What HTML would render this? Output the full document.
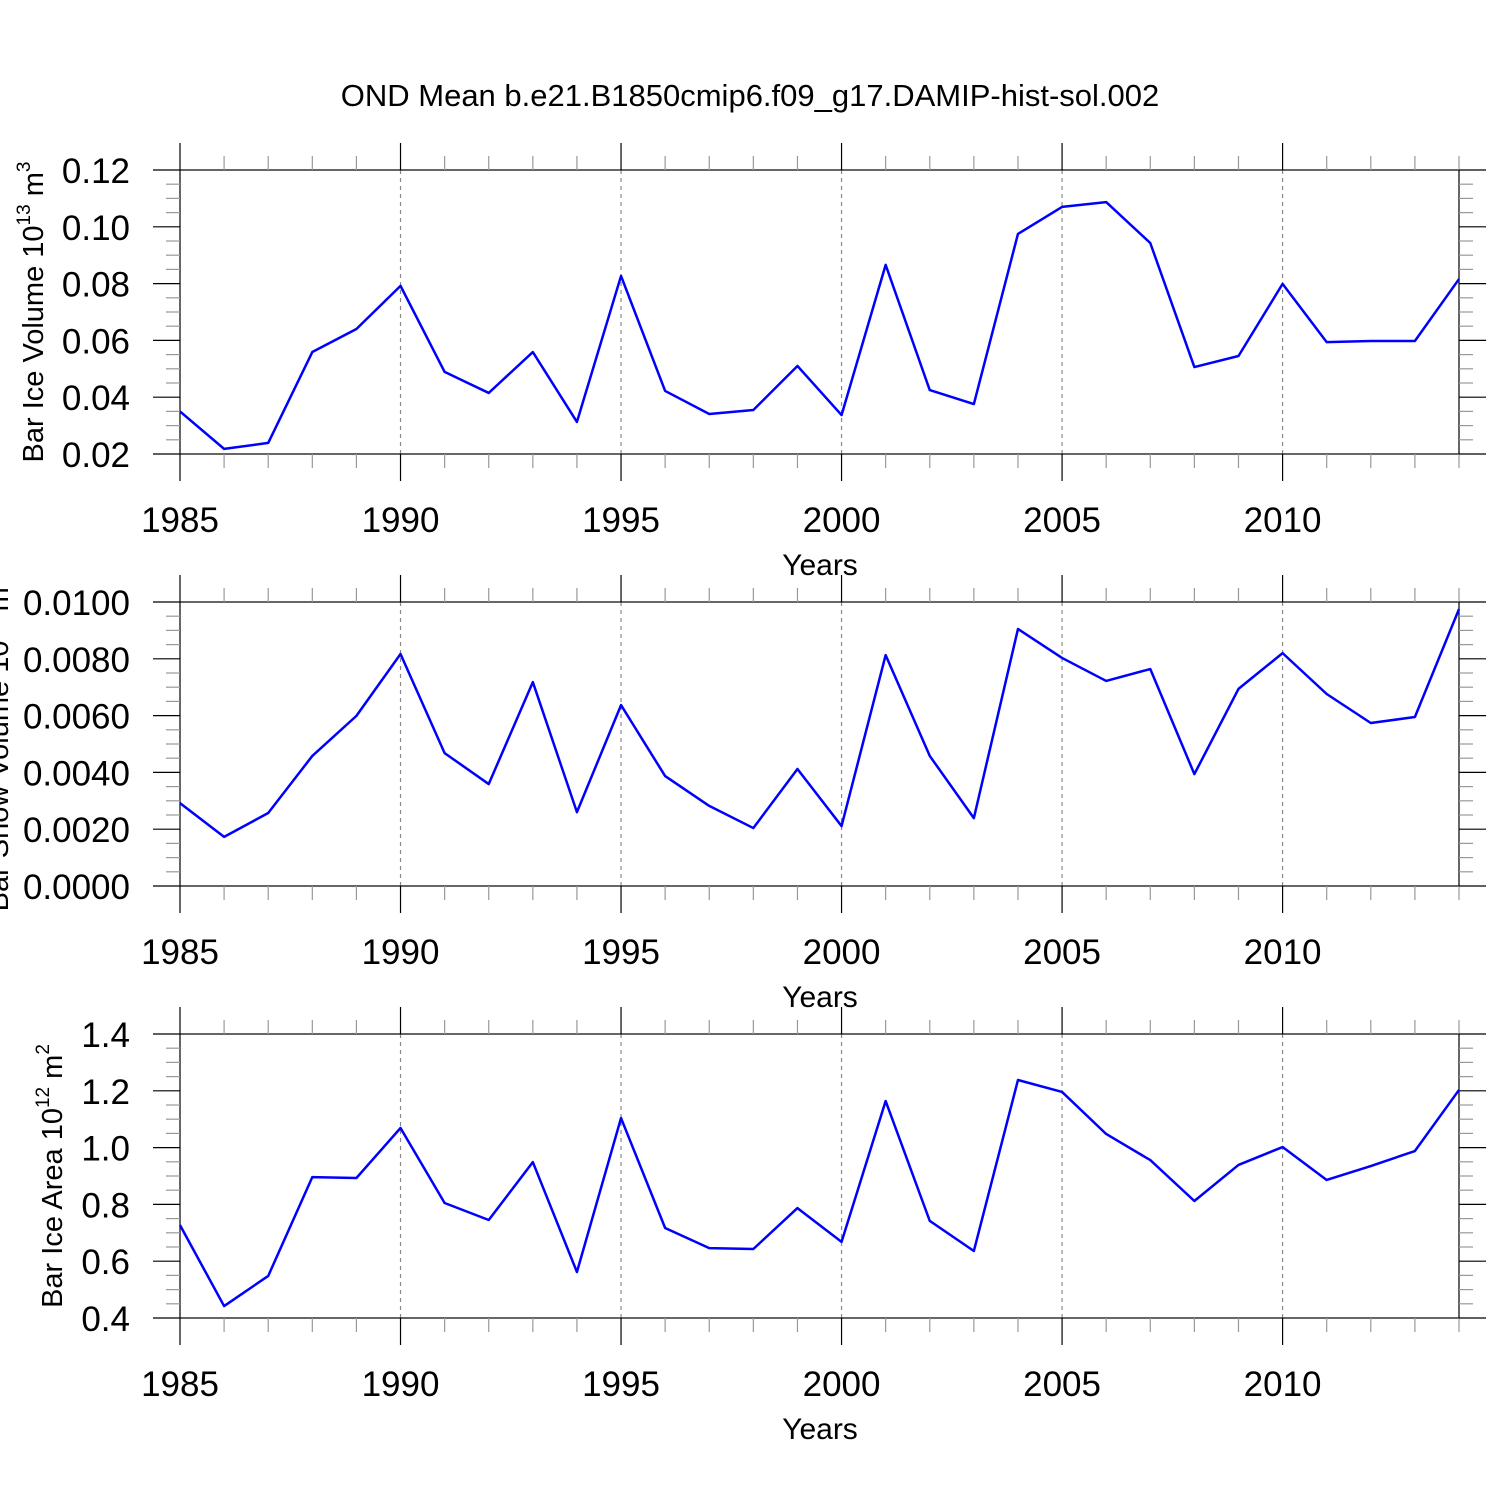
<!DOCTYPE html>
<html><head><meta charset="utf-8"><style>body{margin:0;background:#fff}svg{display:block}text{font-family:"Liberation Sans",sans-serif;fill:#000}</style></head>
<body>
<svg id="c" width="1500" height="1500">
<text x="750" y="106" font-size="31" text-anchor="middle">OND Mean b.e21.B1850cmip6.f09_g17.DAMIP-hist-sol.002</text>
</svg>
<script>
const years = [1985,1986,1987,1988,1989,1990,1991,1992,1993,1994,1995,1996,1997,1998,1999,2000,2001,2002,2003,2004,2005,2006,2007,2008,2009,2010,2011,2012,2013,2014];
const iceVolume = [0.035,0.0218,0.0239,0.0559,0.064,0.0792,0.0489,0.0415,0.0559,0.0313,0.0827,0.0422,0.0341,0.0355,0.051,0.0337,0.0866,0.0425,0.0376,0.0975,0.107,0.1087,0.0943,0.0506,0.0545,0.0799,0.0594,0.0598,0.0598,0.0816];
const snowVolume = [0.00292,0.00173,0.00257,0.00458,0.00599,0.00817,0.00468,0.00359,0.00718,0.0026,0.00637,0.00387,0.00282,0.00204,0.00412,0.00211,0.00813,0.00458,0.00239,0.00905,0.00803,0.00722,0.00764,0.00394,0.00694,0.0082,0.00676,0.00574,0.00595,0.00975];
const iceArea = [0.727,0.442,0.548,0.896,0.893,1.069,0.805,0.745,0.949,0.562,1.104,0.717,0.646,0.643,0.787,0.668,1.164,0.742,0.636,1.238,1.196,1.048,0.956,0.812,0.939,1.002,0.886,0.935,0.988,1.203];
const xTicks = [1985,1990,1995,2000,2005,2010];
const ticks1 = ["0.02","0.04","0.06","0.08","0.10","0.12"];
const ticks2 = ["0.0000","0.0020","0.0040","0.0060","0.0080","0.0100"];
const ticks3 = ["0.4","0.6","0.8","1.0","1.2","1.4"];

const svg = document.getElementById('c');
const NS = 'http://www.w3.org/2000/svg';
function mk(tag, attrs, parent){const e=document.createElementNS(NS,tag);for(const k in attrs)e.setAttribute(k,attrs[k]);(parent||svg).appendChild(e);return e;}
const X0=180,X1=1459;
const xs = y => X0 + (y-1985)*(X1-X0)/(2014-1985);

function panel(name, top, ticks, minorStep, vals, ylabel, ylabelX){
  const bot = top+284;
  const ymin=parseFloat(ticks[0]), ymax=parseFloat(ticks[ticks.length-1]);
  const ys = v => bot - (v-ymin)/(ymax-ymin)*(bot-top);
  const g = mk('g',{});
  
  
  xTicks.slice(1).forEach(t=>{
    const l=mk('line',{x1:xs(t),x2:xs(t),y1:top,y2:bot,stroke:'#888','stroke-width':1.2,'stroke-dasharray':'4,4'},g);
    
    
  });
  const f=mk('rect',{x:X0,y:top,width:X1-X0,height:bot-top,fill:'none',stroke:'#000','stroke-width':1.2},g);
  
  
  years.forEach(y=>{
    const maj = xTicks.includes(y);
    const len = maj?27:14;
    mk('line',{x1:xs(y),x2:xs(y),y1:top-len,y2:top,stroke:maj?'#000':'#999','stroke-width':1.2},g);
    mk('line',{x1:xs(y),x2:xs(y),y1:bot,y2:bot+len,stroke:maj?'#000':'#999','stroke-width':1.2},g);
  });
  xTicks.forEach(t=>{
    const tx=mk('text',{x:xs(t),y:bot+78,'font-size':35,'text-anchor':'middle'},g);
    tx.textContent=t;
    
    
  });
  const xt=mk('text',{x:820,y:bot+121,'font-size':30,'text-anchor':'middle'},g);
  xt.textContent='Years';
  
  
  const nMin = Math.round((ymax-ymin)/minorStep);
  const majStep=(ymax-ymin)/(ticks.length-1);
  for(let i=0;i<=nMin;i++){
    const v=ymin+i*minorStep, y=ys(v);
    const r=(i*minorStep)/majStep;
    const maj = Math.abs(r-Math.round(r))<1e-6;
    const len = maj?27:14;
    mk('line',{x1:X0-len,x2:X0,y1:y,y2:y,stroke:maj?'#000':'#999','stroke-width':1.2},g);
    mk('line',{x1:X1,x2:X1+len,y1:y,y2:y,stroke:maj?'#000':'#999','stroke-width':1.2},g);
  }
  ticks.forEach(t=>{
    const tx=mk('text',{x:130,y:ys(parseFloat(t))+13,'font-size':35,'text-anchor':'end'},g);
    tx.textContent=t;
    
    
  });
  const yt=mk('text',{transform:`translate(${ylabelX},${top+142}) rotate(-90)`,'font-size':29,'text-anchor':'middle'},g);
  yt.innerHTML=ylabel;
  
  
  const p=mk('polyline',{points:years.map((y,i)=>xs(y)+','+ys(vals[i])).join(' '),fill:'none',stroke:'#0000ff','stroke-width':2.5,'stroke-linejoin':'round'},g);
  
  
}
panel('ice-volume-panel',170,ticks1,0.005,iceVolume,'Bar Ice Volume 10<tspan font-size="19" dy="-13">13</tspan><tspan dy="13"> m</tspan><tspan font-size="19" dy="-13">3</tspan>',43);
panel('snow-volume-panel',602,ticks2,0.0005,snowVolume,'Bar Snow Volume 10<tspan font-size="19" dy="-13">13</tspan><tspan dy="13"> m</tspan><tspan font-size="19" dy="-13">3</tspan>',8);
panel('ice-area-panel',1034,ticks3,0.05,iceArea,'Bar Ice Area 10<tspan font-size="19" dy="-13">12</tspan><tspan dy="13"> m</tspan><tspan font-size="19" dy="-13">2</tspan>',62);
</script>
</body></html>
